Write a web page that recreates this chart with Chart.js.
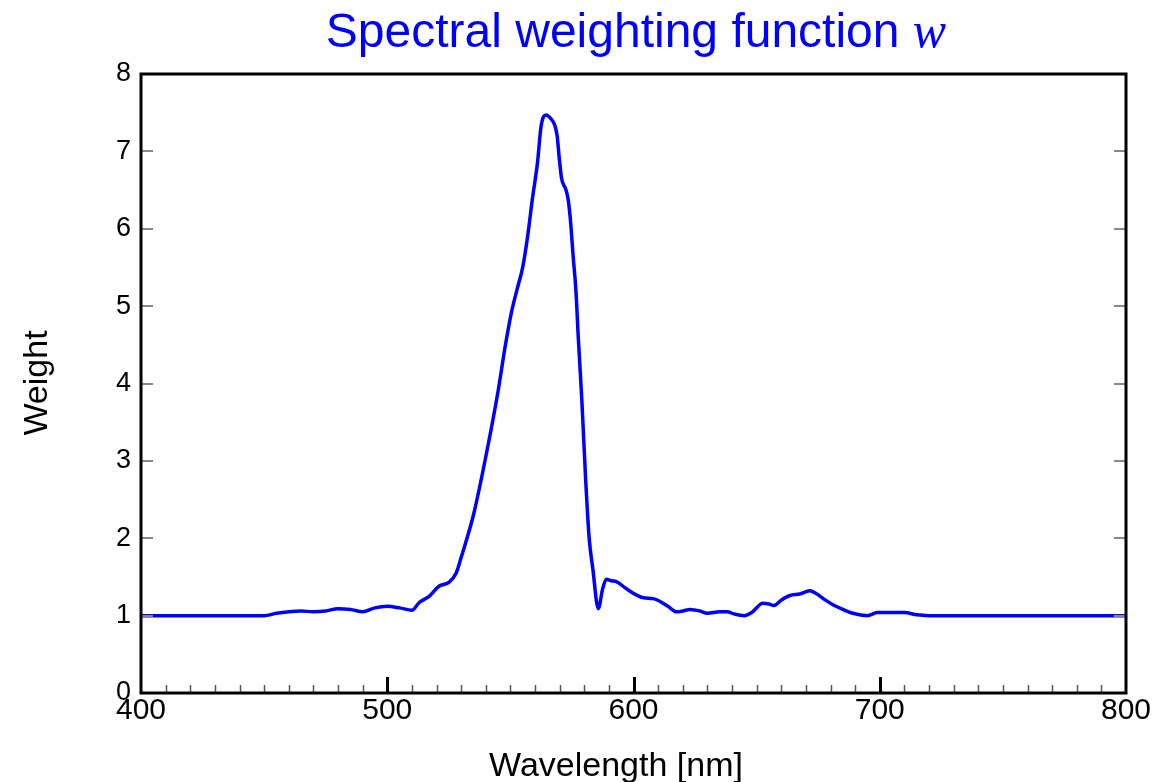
<!DOCTYPE html>
<html>
<head>
<meta charset="utf-8">
<script src="https://cdn.jsdelivr.net/npm/chart.js@4.4.1/dist/chart.umd.min.js"></script>
<style>
  html, body { margin: 0; padding: 0; background: #fff; }
  #wrap { width: 1169px; height: 782px; position: relative; }
</style>
</head>
<body>
<div id="wrap"><canvas id="chart"></canvas></div>
<script>
// spectral weighting
const wavelengths = [400, 450, 455, 460, 465, 470, 475, 480, 485, 490, 495, 500, 505, 510, 513, 517, 521, 525, 528, 530,
    535, 540, 545, 548, 550.5, 553, 555, 557, 559, 561, 562.5, 564.5, 566.5, 568, 569, 569.8, 570.8, 572.6, 573.5, 574.5,
    575.5, 576.6, 577.6, 579, 580.5, 582, 583.5, 585.7, 587.5, 589, 591, 593, 597, 601, 604, 608, 611, 614, 617.5, 620,
    623, 627, 630, 635, 638, 641, 645, 648, 652.5, 655, 657, 660, 663.5, 667.5, 671.5, 674, 678, 681, 685, 689,
    695, 699, 705, 710, 715, 720, 800];
const weights = [1.0, 1.0, 1.03, 1.05, 1.06, 1.05, 1.06, 1.09, 1.08, 1.05, 1.10, 1.12, 1.10, 1.07, 1.17, 1.25, 1.38, 1.43, 1.55, 1.75,
    2.3, 3.05, 3.9, 4.5, 4.93, 5.25, 5.5, 5.9, 6.4, 6.85, 7.33, 7.47, 7.42, 7.34, 7.2, 6.93, 6.65, 6.5, 6.37, 6.07,
    5.64, 5.21, 4.58, 3.8, 2.8, 2.0, 1.6, 1.09, 1.35, 1.47, 1.45, 1.44, 1.35, 1.27, 1.23, 1.22, 1.18, 1.12, 1.05, 1.06,
    1.08, 1.06, 1.03, 1.05, 1.05, 1.02, 1.0, 1.04, 1.16, 1.15, 1.13, 1.20, 1.26, 1.28, 1.32, 1.29, 1.2, 1.14, 1.08, 1.03,
    1.0, 1.04, 1.04, 1.04, 1.01, 1.0, 1.0];

const xTicks = [400, 500, 600, 700, 800];
const yTicks = [0, 1, 2, 3, 4, 5, 6, 7, 8];

const titleText = 'Spectral weighting function ';
const titleSymbol = 'w';
const xTitle = 'Wavelength [nm]';
const yTitle = 'Weight';

const sans = '"Liberation Sans", Arial, sans-serif';

// frame, inner ticks, axis titles and the title
const framePlugin = {
    id: 'frame',
    afterDraw(chart) {
        const { ctx, chartArea: a, scales } = chart;
        ctx.save();

        // minor x ticks every 10 nm
        for (let v = 410; v < 800; v += 10) {
            const px = Math.round(scales.x.getPixelForValue(v)) + 0.5;
            const major = v % 100 === 0;
            ctx.strokeStyle = major ? '#000' : '#555';
            ctx.lineWidth = major ? 3 : 1.5;
            ctx.beginPath();
            ctx.moveTo(px, a.bottom);
            ctx.lineTo(px, a.bottom - (major ? 16 : 8));
            ctx.stroke();
        }

        // y ticks on both sides
        ctx.strokeStyle = '#888';
        ctx.lineWidth = 2;
        yTicks.slice(1, -1).forEach(v => {
            const py = Math.round(scales.y.getPixelForValue(v));
            ctx.beginPath();
            ctx.moveTo(a.left, py);
            ctx.lineTo(a.left + 12, py);
            ctx.moveTo(a.right, py);
            ctx.lineTo(a.right - 12, py);
            ctx.stroke();
        });

        ctx.strokeStyle = '#000';
        ctx.lineWidth = 3;
        ctx.strokeRect(a.left, a.top, a.right - a.left, a.bottom - a.top);

        // axis titles
        ctx.fillStyle = '#000';
        ctx.font = '34px ' + sans;
        ctx.textAlign = 'center';
        ctx.textBaseline = 'alphabetic';
        ctx.fillText(xTitle, 616, 776);
        ctx.save();
        ctx.translate(47, 383);
        ctx.rotate(-Math.PI / 2);
        ctx.fillText(yTitle, 0, 0);
        ctx.restore();

        // title with italic symbol
        ctx.fillStyle = '#0000ff';
        ctx.font = '48px ' + sans;
        const w1 = ctx.measureText(titleText).width;
        ctx.font = 'italic 50px "Liberation Serif", "Times New Roman", serif';
        const w2 = ctx.measureText(titleSymbol).width;
        const x0 = 636 - (w1 + w2) / 2;
        ctx.textAlign = 'left';
        ctx.font = '48px ' + sans;
        ctx.fillText(titleText, x0, 47);
        ctx.font = 'italic 50px "Liberation Serif", "Times New Roman", serif';
        ctx.fillText(titleSymbol, x0 + w1, 47);
        ctx.restore();
    }
};

const ctx = document.getElementById('chart').getContext('2d');
new Chart(ctx, {
    type: 'line',
    data: {
        datasets: [{
            data: wavelengths.map((x, i) => ({ x: x, y: weights[i] })),
            borderColor: '#0000ff',
            borderWidth: 3.5,
            pointRadius: 0,
            cubicInterpolationMode: 'monotone',
            fill: false
        }]
    },
    options: {
        responsive: true,
        maintainAspectRatio: false,
        animation: false,
        layout: { padding: { top: 74, right: 43, left: 0, bottom: 0 } },
        plugins: { legend: { display: false }, tooltip: { enabled: false } },
        scales: {
            x: {
                type: 'linear',
                min: 400,
                max: 800,
                afterBuildTicks: scale => { scale.ticks = xTicks.map(v => ({ value: v })); },
                afterFit: scale => { scale.height = 89; },
                ticks: { color: '#000', font: { family: sans, size: 30 }, padding: 0, maxRotation: 0, autoSkip: false },
                grid: { display: false, drawTicks: false },
                border: { display: false }
            },
            y: {
                min: 0,
                max: 8,
                afterBuildTicks: scale => { scale.ticks = yTicks.map(v => ({ value: v })); },
                afterFit: scale => { scale.width = 141; },
                ticks: { color: '#000', font: { family: sans, size: 27 }, padding: 10 },
                grid: { display: false, drawTicks: false },
                border: { display: false }
            }
        }
    },
    plugins: [framePlugin]
});
</script>
</body>
</html>
